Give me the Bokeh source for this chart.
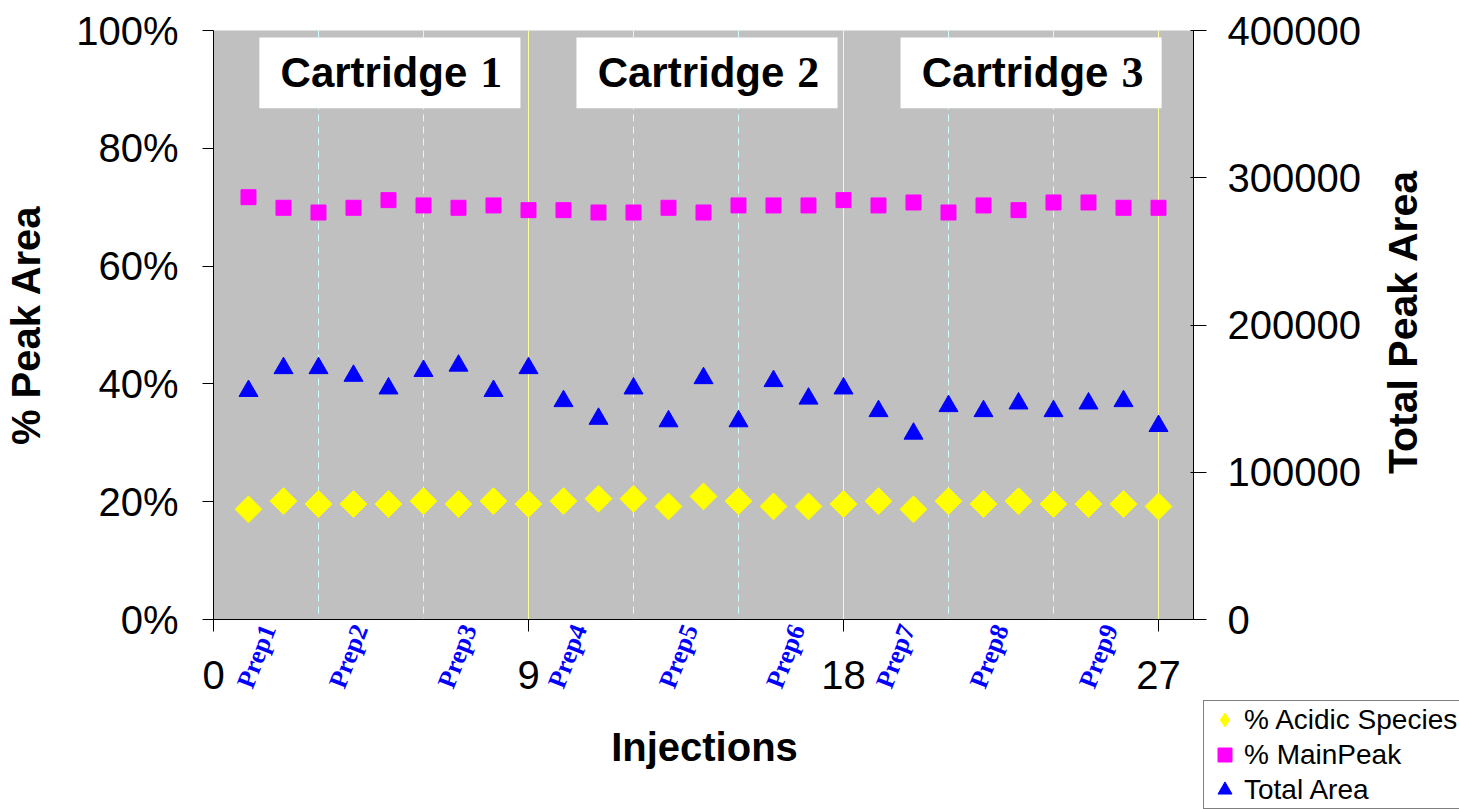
import numpy as np
from bokeh.plotting import figure
from bokeh.layouts import column, row
from bokeh.models import (Range1d, LinearAxis, FixedTicker, PrintfTickFormatter, Span,
                          Label, Legend, LegendItem, CustomJSTickFormatter)
from bokeh.core.properties import value
from bokeh.embed import file_html
from bokeh.resources import INLINE

# ---------------- data ----------------
injections = list(range(1, 28))
acidic = [18.7, 20.1, 19.6, 19.6, 19.6, 20.1, 19.6, 20.1, 19.6, 20.1, 20.5, 20.5, 19.2,
          20.9, 20.1, 19.2, 19.2, 19.6, 20.1, 18.7, 20.1, 19.6, 20.1, 19.6, 19.6, 19.6, 19.2]
mainpeak = [71.7, 69.9, 69.1, 69.9, 71.2, 70.3, 69.9, 70.3, 69.5, 69.5, 69.1, 69.1, 69.9,
            69.1, 70.3, 70.3, 70.3, 71.2, 70.3, 70.8, 69.1, 70.3, 69.5, 70.8, 70.8, 69.9, 69.9]
total_area = [155200, 170700, 170700, 165500, 156900, 168800, 172400, 155200, 170700,
              148300, 136300, 156900, 134600, 163900, 134600, 161900, 150000, 156900,
              141500, 126200, 144900, 141500, 146700, 141500, 146700, 148300, 131400]

x_ticks = [0, 9, 18, 27]
pct_ticks = [0, 20, 40, 60, 80, 100]
area_ticks = [0, 100000, 200000, 300000, 400000]

prep_labels = ["Prep1", "Prep2", "Prep3", "Prep4", "Prep5", "Prep6", "Prep7", "Prep8", "Prep9"]
prep_pos = [1.57, 4.2, 7.31, 10.46, 13.63, 16.69, 19.83, 22.51, 25.63]
prep_bounds = [3, 6, 12, 15, 21, 24]
cartridge_bounds = [9, 18, 27]
cartridge_word = ["Cartridge", "Cartridge", "Cartridge"]
cartridge_num = ["1", "2", "3"]
cartridge_centers = [5.04, 14.10, 23.36]

series_names = ["% Acidic Species", "% MainPeak", "Total Area"]

FONT = "Liberation Sans"

# ---------------- main figure ----------------
p = figure(width=1375, height=700, x_range=Range1d(0, 28), y_range=Range1d(0, 100),
           output_backend="svg", toolbar_location=None,
           min_border_left=213, min_border_right=182, min_border_top=30, min_border_bottom=81)
p.extra_y_ranges = {"area": Range1d(0, 400000)}

p.background_fill_color = "#C0C0C0"
p.border_fill_color = "white"
p.outline_line_color = None
p.xgrid.grid_line_color = None
p.ygrid.grid_line_color = None


def style_axis(ax):
    ax.major_label_text_font = FONT
    ax.major_label_text_font_size = "40px"
    ax.major_label_text_color = "black"
    ax.axis_label_text_font = FONT
    ax.axis_label_text_font_size = "40px"
    ax.axis_label_text_font_style = "bold"
    ax.axis_label_text_color = "black"
    ax.axis_line_color = "black"
    ax.major_tick_line_color = "black"
    ax.minor_tick_line_color = None


xa = p.xaxis[0]
style_axis(xa)
xa.ticker = FixedTicker(ticks=x_ticks)
xa.major_tick_out = 12
xa.major_tick_in = 0
xa.major_label_standoff = 29

ya = p.yaxis[0]
style_axis(ya)
ya.ticker = FixedTicker(ticks=pct_ticks)
ya.formatter = PrintfTickFormatter(format="%d%%")
ya.major_tick_out = 11
ya.major_tick_in = 0
ya.major_label_standoff = 24
ya.axis_label = "% Peak Area"
ya.axis_label_standoff = 25

ra = LinearAxis(y_range_name="area", ticker=FixedTicker(ticks=area_ticks),
                formatter=PrintfTickFormatter(format="%d"))
style_axis(ra)
ra.major_tick_out = 13
ra.major_tick_in = 3
ra.major_label_standoff = 21
p.add_layout(ra, "right")

# prep labels as a second, line-less bottom axis pulled up under the first one
prep_axis = LinearAxis(
    ticker=FixedTicker(ticks=prep_pos),
    formatter=CustomJSTickFormatter(
        args=dict(pos=prep_pos, names=prep_labels),
        code="const i = pos.findIndex((q) => Math.abs(q - tick) < 1e-6); return i < 0 ? '' : names[i];"),
    major_label_orientation=1.2, major_label_standoff=-66,
    major_tick_in=0, major_tick_out=0,
    axis_line_color=None, major_tick_line_color=None, minor_tick_line_color=None,
    major_label_text_font="Liberation Serif", major_label_text_font_style="bold",
    major_label_text_font_size="26px", major_label_text_color="#0000FF")
p.add_layout(prep_axis, "below")

# vertical separators
for b in prep_bounds:
    p.add_layout(Span(location=b, dimension="height", line_color="#CCFFFF",
                      line_dash="7 5", line_width=1, level="underlay"))
for b in cartridge_bounds:
    p.add_layout(Span(location=b, dimension="height", line_color="#FFFF99",
                      line_width=1, level="underlay"))

# white cartridge boxes with titles
half = 3.73
p.quad(left=[c - half for c in cartridge_centers], right=[c + half for c in cartridge_centers],
       bottom=[86.8] * 3, top=[98.8] * 3, fill_color="white", line_color=None)
p.text(x=[c + 2.21 for c in cartridge_centers], y=[92.9] * 3, text=cartridge_word,
       text_font=value(FONT), text_font_style="bold", text_font_size="42px",
       text_align="right", text_baseline="alphabetic", text_color="black")
p.text(x=[c + 2.58 for c in cartridge_centers], y=[92.9] * 3, text=cartridge_num,
       text_font=value("Liberation Serif"), text_font_style="bold", text_font_size="44px",
       text_align="left", text_baseline="alphabetic", text_color="black")

# series
p.scatter(injections, acidic, marker="square", size=19, angle=np.pi / 4,
          fill_color="#FFFF00", line_color="#FFFF00")
p.scatter(injections, mainpeak, marker="square", size=15,
          fill_color="#FF00FF", line_color="#FF00FF")
p.scatter(injections, total_area, marker="triangle", size=19, y_range_name="area",
          fill_color="#0000FF", line_color="#0000FF")

# ---------------- right strip: right axis title ----------------
pr = figure(width=84, height=700, x_range=Range1d(1375, 1459), y_range=Range1d(700, 0),
            output_backend="svg", toolbar_location=None, x_axis_type=None, y_axis_type=None,
            min_border_left=0, min_border_right=0, min_border_top=0, min_border_bottom=0)
pr.outline_line_color = None
pr.background_fill_color = "white"
pr.border_fill_color = "white"
pr.grid.grid_line_color = None
pr.add_layout(Label(x=1402, y=346, text="Total Peak Area", angle=np.pi / 2,
                    text_align="center", text_baseline="middle", text_font=FONT,
                    text_font_style="bold", text_font_size="41px", text_color="black"))

# ---------------- bottom strip: x title + legend ----------------
pb = figure(width=1459, height=109, x_range=Range1d(0, 1459), y_range=Range1d(809, 700),
            output_backend="svg", toolbar_location=None, x_axis_type=None, y_axis_type=None,
            min_border_left=0, min_border_right=0, min_border_top=0, min_border_bottom=0)
pb.outline_line_color = None
pb.background_fill_color = "white"
pb.border_fill_color = "white"
pb.grid.grid_line_color = None
pb.add_layout(Label(x=704, y=746, text="Injections", text_align="center",
                    text_baseline="alphabetic", text_font=FONT, text_font_style="bold",
                    text_font_size="40px", text_color="black"))

# legend proxies (kept outside the visible range of this strip)
g_acid = pb.scatter(x=[-100], y=[0], marker="diamond",
                    fill_color="#FFFF00", line_color="#FFFF00")
g_main = pb.scatter(x=[-100], y=[0], marker="square", fill_color="#FF00FF", line_color="#FF00FF")
g_area = pb.scatter(x=[-100], y=[0], marker="triangle", fill_color="#0000FF", line_color="#0000FF")

legend = Legend(items=[LegendItem(label=series_names[0], renderers=[g_acid]),
                       LegendItem(label=series_names[1], renderers=[g_main]),
                       LegendItem(label=series_names[2], renderers=[g_area])],
                location=(1203, 0), label_text_font=FONT, label_text_font_size="28px",
                label_text_color="black", label_width=245,
                glyph_width=39, glyph_height=35, label_height=35, spacing=0, padding=1,
                margin=0, label_standoff=0, border_line_color="black",
                background_fill_color="white", background_fill_alpha=1.0)
pb.add_layout(legend, "center")

layout = column(row(p, pr), pb)
open("out.html", "w").write(file_html(layout, INLINE))
